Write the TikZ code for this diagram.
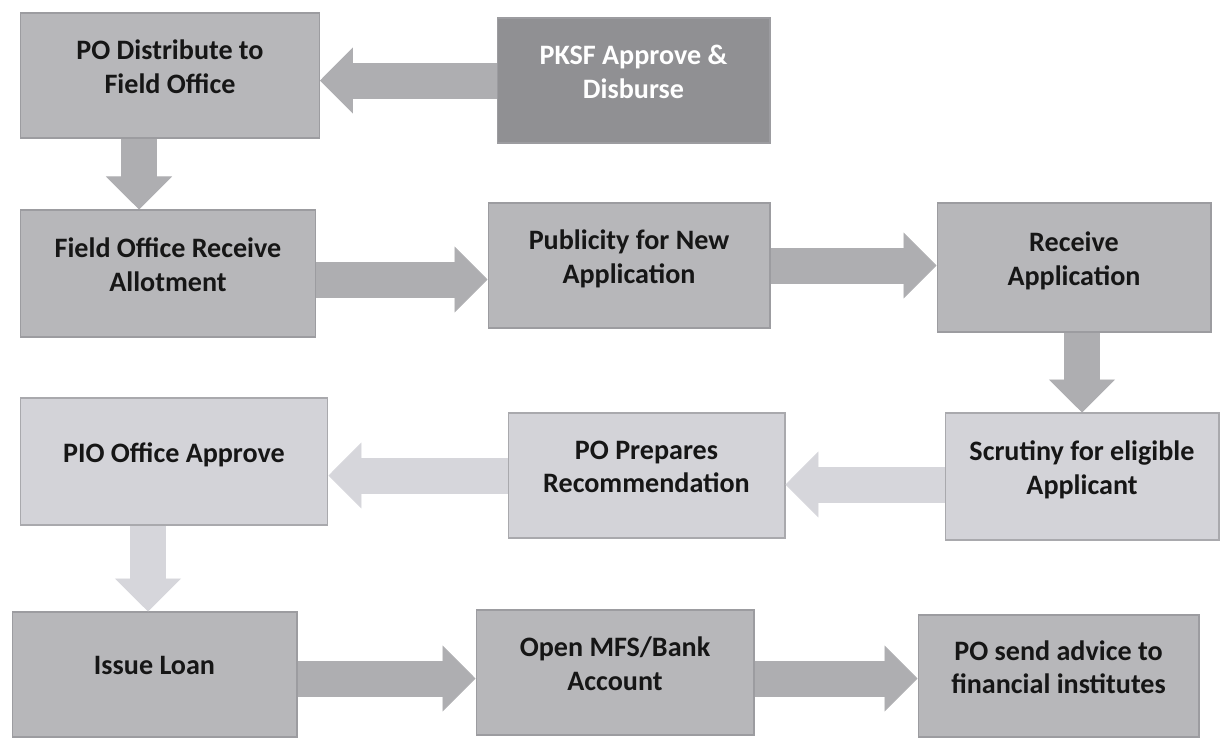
\documentclass[tikz,border=0pt]{standalone}
\usepackage{fontspec}
\setmainfont{Carlito}
\usetikzlibrary{arrows.meta}
\definecolor{boxgray}{HTML}{B7B7BA}
\definecolor{darkgray}{HTML}{909093}
\definecolor{palegray}{HTML}{D3D3D8}
\definecolor{edgegray}{HTML}{9C9CA0}
\definecolor{inkgray}{HTML}{161616}
\definecolor{arrowgray}{HTML}{AEAEB1}
\definecolor{arrowpale}{HTML}{D6D6DB}
\tikzset{
  stage/.style = {rectangle, draw=edgegray, line width=0.6pt, fill=boxgray, text=inkgray,
    align=center, font=\bfseries\fontsize{16}{19}\selectfont, inner sep=2pt, text depth=0.35cm},
  stagedark/.style = {stage, fill=darkgray, text=white},
  stagepale/.style = {stage, fill=palegray, draw=palegray!80!black},
  flow/.style = {line width=0.72cm, draw=arrowgray,
    -{Triangle[width=1.32cm, length=0.66cm, line width=0.5pt]}},
  flowpale/.style = {flow, draw=arrowpale},
}

\begin{document}
\begin{tikzpicture}[x=0.02cm, y=-0.02cm]
  \useasboundingbox (0,0) rectangle (1225,738);

  % boxes, row by row
  \node [stage, minimum width=5.98cm, minimum height=2.5cm] (podist) at (170,75.5) {PO Distribute to\\Field Office};
  \node [stagedark, minimum width=5.46cm, minimum height=2.5cm] (pksf) at (633.5,80.5) {PKSF Approve \&\\Disburse};

  \node [stage, minimum width=5.92cm, minimum height=2.54cm] (fieldrecv) at (168,273.5) {Field Office Receive\\Allotment};
  \node [stage, minimum width=5.64cm, minimum height=2.5cm] (publicity) at (629,265.5) {Publicity for New\\Application};
  \node [stage, minimum width=5.48cm, minimum height=2.58cm] (recvapp) at (1074,267.5) {Receive\\Application};

  \node [stagepale, minimum width=6.16cm, minimum height=2.54cm] (pioappr) at (174,461.5) {PIO Office Approve};
  \node [stagepale, minimum width=5.54cm, minimum height=2.5cm] (poprep) at (646.5,475.5) {PO Prepares\\Recommendation};
  \node [stagepale, minimum width=5.48cm, minimum height=2.54cm] (scrutiny) at (1082,476.5) {Scrutiny for eligible\\Applicant};

  \node [stage, minimum width=5.7cm, minimum height=2.5cm] (issue) at (154.5,674.5) {Issue Loan};
  \node [stage, minimum width=5.56cm, minimum height=2.5cm] (mfs) at (615,672.5) {Open MFS/Bank\\Account};
  \node [stage, minimum width=5.62cm, minimum height=2.44cm] (advice) at (1058.5,676) {PO send advice to\\financial institutes};

  % block arrows
  \draw [flow] (pksf.west) -- (pksf.west -| podist.east);
  \draw [flow] ([xshift=-0.62cm]podist.south) -- ([xshift=-0.62cm]podist.south |- fieldrecv.north);
  \draw [flow] ([yshift=-0.12cm]fieldrecv.east) -- ([yshift=-0.12cm]fieldrecv.east -| publicity.west);
  \draw [flow] (publicity.east) -- (publicity.east -| recvapp.west);
  \draw [flow] ([xshift=0.16cm]recvapp.south) -- ([xshift=0.16cm]recvapp.south |- scrutiny.north);
  \draw [flowpale] ([yshift=-0.16cm]scrutiny.west) -- ([yshift=-0.16cm]scrutiny.west -| poprep.east);
  \draw [flowpale] (poprep.west) -- (poprep.west -| pioappr.east);
  \draw [flowpale] ([xshift=-0.52cm]pioappr.south) -- ([xshift=-0.52cm]pioappr.south |- issue.north);
  \draw [flow] ([yshift=-0.08cm]issue.east) -- ([yshift=-0.08cm]issue.east -| mfs.west);
  \draw [flow] ([yshift=-0.12cm]mfs.east) -- ([yshift=-0.12cm]mfs.east -| advice.west);
\end{tikzpicture}
\end{document}
